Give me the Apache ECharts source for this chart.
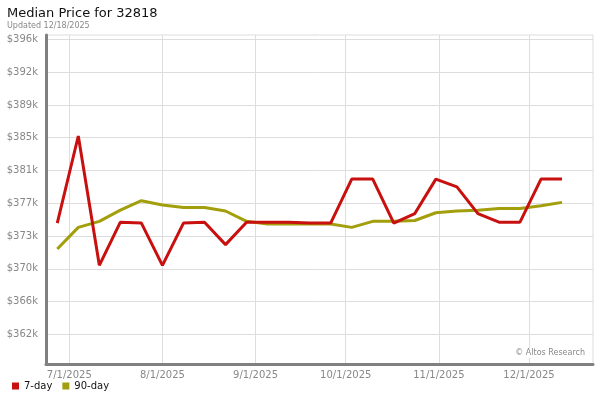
<!DOCTYPE html>
<html>
<head>
<meta charset="utf-8">
<script src="https://cdn.jsdelivr.net/npm/echarts@6/dist/echarts.min.js"></script>
<style>html,body{margin:0;padding:0;background:#fff}#c{width:600px;height:400px}</style>
</head>
<body>
<div id="c"></div>
<script>
const titleText = 'Median Price for 32818';
const subText = 'Updated 12/18/2025';
const seriesNames = ['7-day', '90-day'];
const dates = ['2025-06-27','2025-07-04','2025-07-11','2025-07-18','2025-07-25','2025-08-01','2025-08-08','2025-08-15','2025-08-22','2025-08-29','2025-09-05','2025-09-12','2025-09-19','2025-09-26','2025-10-03','2025-10-10','2025-10-17','2025-10-24','2025-10-31','2025-11-07','2025-11-14','2025-11-21','2025-11-28','2025-12-05','2025-12-12'];
const sevenDay = [374900,385000,370000,375000,374900,370000,374900,375000,372400,375000,375000,375000,374900,374900,380000,380000,374900,376000,380000,379100,376000,375000,375000,380000,380000];
const ninetyDay = [371900,374400,375100,376400,377500,377000,376700,376700,376300,375100,374800,374800,374800,374800,374400,375100,375100,375200,376100,376300,376400,376600,376600,376900,377300];
const yTicks = [362000,365800,369600,373400,377200,381000,384800,388600,392400,396200];
const xTicks = ['2025-07-01','2025-08-01','2025-09-01','2025-10-01','2025-11-01','2025-12-01'];

function ts(s){const p=s.split('-').map(Number);return new Date(p[0],p[1]-1,p[2]).getTime();}
const DAY = 86400000;
const xMin = ts('2025-07-01') - 7.75*DAY;
const xMax = ts('2025-12-01') + 21.3*DAY;
const FONT = 'DejaVu Sans';

const chart = echarts.init(document.getElementById('c'), null, {renderer:'canvas'});
chart.setOption({
  animation:false,
  backgroundColor:'#fff',
  title:{
    text:titleText, subtext:subText, left:7, top:7, padding:0, itemGap:2,
    textStyle:{fontFamily:FONT,fontSize:13,fontWeight:'normal',color:'#111'},
    subtextStyle:{fontFamily:FONT,fontSize:8,color:'#888'}
  },
  legend:{
    left:7, top:376, itemWidth:7, itemHeight:7, itemGap:10, icon:'rect',
    textStyle:{fontFamily:FONT,fontSize:10,color:'#111'},
    data:seriesNames
  },
  grid:{left:46,right:7,top:35,bottom:36,show:true,borderColor:'#ddd',borderWidth:1},
  xAxis:{
    type:'value', min:xMin, max:xMax,
    axisLine:{show:true,lineStyle:{color:'#808080',width:3}},
    axisTick:{show:false, customValues:xTicks.map(ts)},
    splitLine:{show:true,lineStyle:{color:'#ddd',width:1}},
    axisLabel:{
      customValues:xTicks.map(ts), margin:6,
      fontFamily:FONT,fontSize:10,color:'#888',
      formatter:function(v){const d=new Date(v);return (d.getMonth()+1)+'/'+d.getDate()+'/'+d.getFullYear();}
    }
  },
  yAxis:{
    type:'value', min:358550, max:396720,
    axisLine:{show:true,lineStyle:{color:'#808080',width:3}},
    axisTick:{show:false, customValues:yTicks},
    splitLine:{show:true,lineStyle:{color:'#ddd',width:1}},
    axisLabel:{
      customValues:yTicks, margin:8,
      fontFamily:FONT,fontSize:10,color:'#888',
      formatter:function(v){return '$'+Math.round(v/1000)+'k';}
    }
  },
  graphic:[{
    type:'text', right:13, top:348, z:100,
    style:{text:'© Altos Research', fontFamily:FONT, fontSize:8, fill:'#888', backgroundColor:'#fff', padding:[1,2]}
  }],
  series:[
    {name:seriesNames[0], type:'line', showSymbol:false, symbol:'none', color:'#c8100f',
     lineStyle:{width:3,color:'#c8100f'}, z:3,
     data:dates.map((d,i)=>[ts(d), sevenDay[i]])},
    {name:seriesNames[1], type:'line', showSymbol:false, symbol:'none', color:'#a39e0c',
     lineStyle:{width:3,color:'#a39e0c'}, z:2,
     data:dates.map((d,i)=>[ts(d), ninetyDay[i]])}
  ]
});
</script>
</body>
</html>
